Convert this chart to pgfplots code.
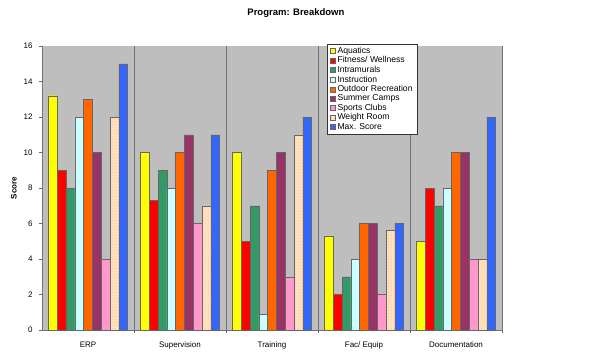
\documentclass[border=0pt]{standalone}
\usepackage{pgfplots}
\pgfplotsset{compat=1.18}
\usepackage{pgfplotstable}
\usepackage{fontspec}
\setmainfont{Liberation Sans}
\usetikzlibrary{patterns}
\definecolor{cAq}{HTML}{FFFF00}
\definecolor{cFit}{HTML}{FF0000}
\definecolor{cInt}{HTML}{339966}
\definecolor{cIns}{HTML}{CCFFFF}
\definecolor{cOut}{HTML}{FF6600}
\definecolor{cSum}{HTML}{993366}
\definecolor{cSpo}{HTML}{FF99CC}
\definecolor{cWei}{HTML}{FFCC99}
\definecolor{cMax}{HTML}{3366FF}
\definecolor{cBg}{HTML}{BEBEBE}
\pgfplotstableread{
x aq fit intr instr out sum spo wei max
1 13.2 9 8 12 13 10 4 12 15
2 10 7.3 9 8 10 11 6 7 11
3 10 5 7 0.9 9 10 3 11 12
4 5.3 2 3 4 6 6 2 5.6 6
5 5 8 7 8 10 10 4 4 12
}\data
\begin{document}
\begin{tikzpicture}
\useasboundingbox (-42pt,-27pt) rectangle (562pt,330pt);
\begin{axis}[
  scale only axis,
  width=460pt, height=284pt,
  ybar=0pt, bar width=8.8pt,
  xmin=0.5, xmax=5.5, ymin=0, ymax=16,
  xtick={1,2,3,4,5},
  xticklabels={ERP,Supervision,Training,Fac/ Equip,Documentation},
  minor xtick={1.5,2.5,3.5,4.5,5.5},
  xminorgrids=true,
  minor x grid style={black!55, line width=0.6pt},
  major x tick style={draw=none},
  minor tick length=3pt,
  ytick={0,2,...,16},
  major tick length=3pt,
  tick style={black!60, line width=0.5pt},
  tick align=outside,
  axis x line*=bottom, axis y line*=left,
  axis line style={black!55, line width=0.6pt, -},
  axis background/.style={fill=cBg},
  ticklabel style={font=\fontsize{8}{9}\selectfont},
  /pgf/number format/assume math mode=true,
  yticklabel style={xshift=-3pt},
  xticklabel style={yshift=-5pt},
  title={Program: Breakdown},
  title style={font=\bfseries\fontsize{9.5}{11}\selectfont, at={(axis description cs:0.552,1)}, anchor=center, yshift=27pt},
  ylabel={Score},
  ylabel style={font=\bfseries\fontsize{8}{9}\selectfont, at={(axis description cs:-0.061,0.5)}, anchor=center},
  legend style={at={(axis description cs:0.6196,1.007)}, anchor=north west,
    font=\fontsize{8.6}{9.4}\selectfont, draw=black!80, line width=0.4pt, fill=white,
    inner xsep=2.5pt, inner ysep=1pt, row sep=-2.2pt},
  legend cell align=left,
  legend image code/.code={\draw[#1, line width=0.3pt] (0pt,-2.5pt) rectangle (5.5pt,2.5pt);},
  every axis plot/.append style={draw=black!60, line width=0.3pt},
]
\addplot[fill=cAq] table[x=x,y=aq]{\data};
\addplot[fill=cFit] table[x=x,y=fit]{\data};
\addplot[fill=cInt] table[x=x,y=intr]{\data};
\addplot[fill=cIns] table[x=x,y=instr]{\data};
\addplot[fill=cOut] table[x=x,y=out]{\data};
\addplot[fill=cSum] table[x=x,y=sum]{\data};
\addplot[fill=cSpo] table[x=x,y=spo]{\data};
\addplot[fill=cWei!55!white, postaction={pattern=crosshatch dots, pattern color=cWei!90!orange}] table[x=x,y=wei]{\data};
\addplot[fill=cMax] table[x=x,y=max]{\data};
\legend{Aquatics,Fitness/ Wellness,Intramurals,Instruction,Outdoor Recreation,Summer Camps,Sports Clubs,Weight Room,Max. Score}
\end{axis}
\end{tikzpicture}
\end{document}
